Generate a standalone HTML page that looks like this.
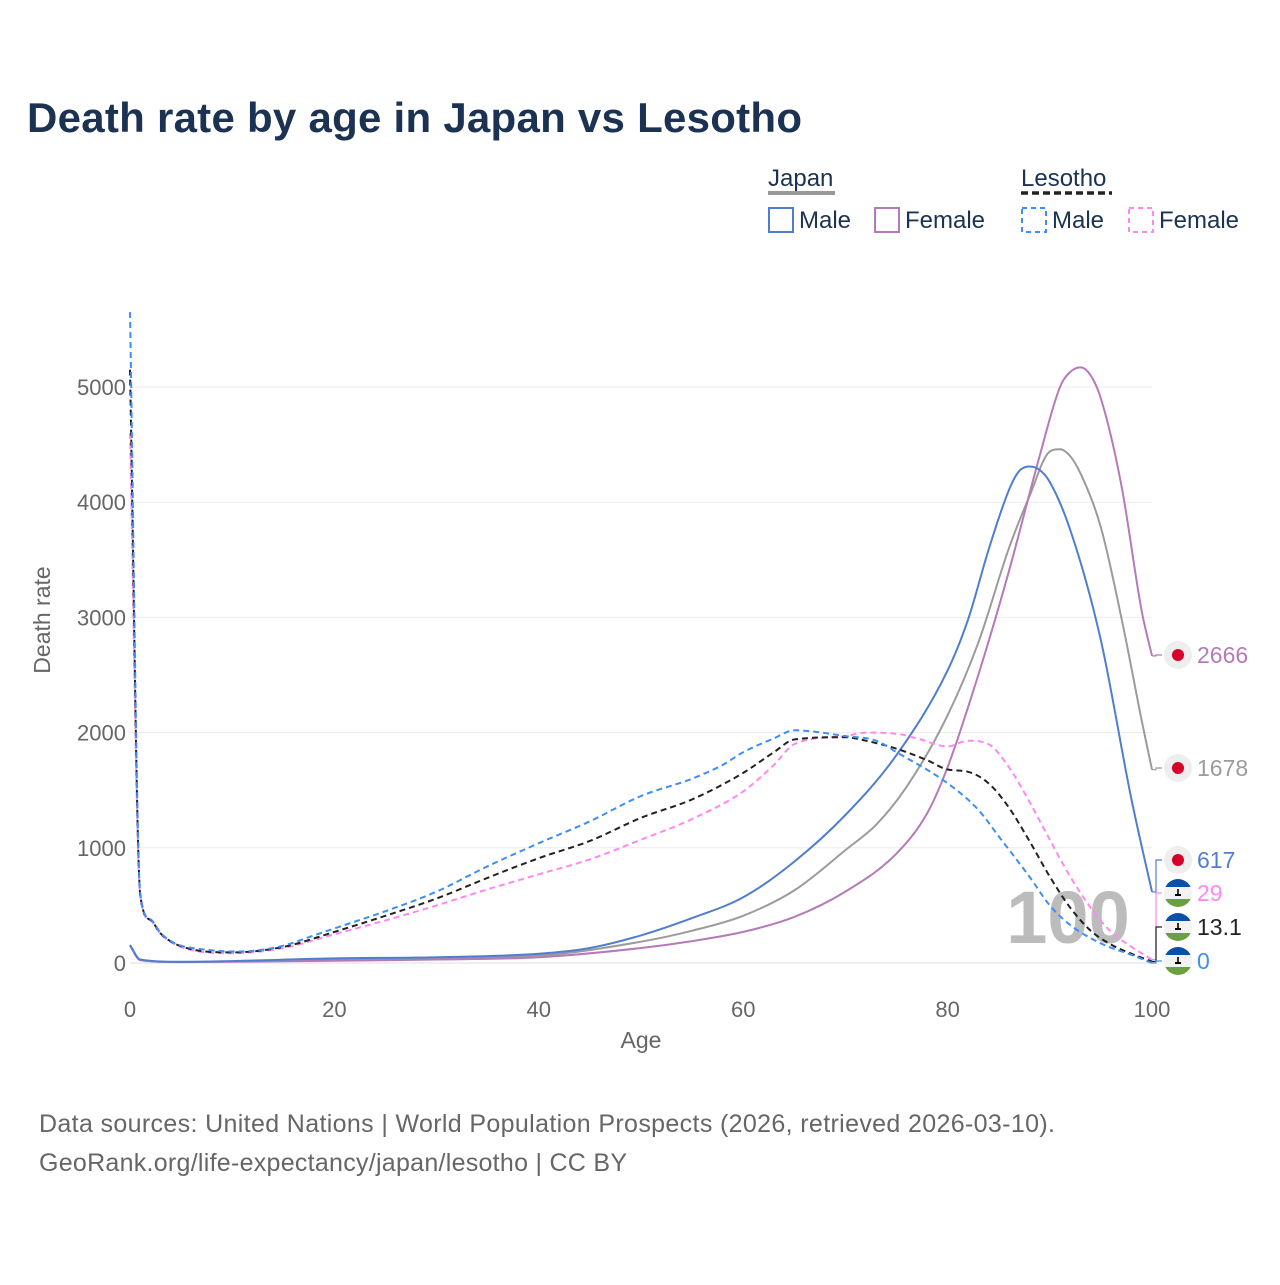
<!DOCTYPE html>
<html><head><meta charset="utf-8">
<style>
body{margin:0;background:#fff;}
svg text{font-family:"Liberation Sans",sans-serif;}
</style></head>
<body>
<svg id="chart" width="1280" height="1280" viewBox="0 0 1280 1280" xmlns="http://www.w3.org/2000/svg">
<text x="27" y="132" font-size="42" font-weight="bold" fill="#1b3252" textLength="775">Death rate by age in Japan vs Lesotho</text>
<g font-size="24" fill="#1b3252">
 <text x="768" y="186">Japan</text>
 <line x1="768" y1="193" x2="835" y2="193" stroke="#999" stroke-width="4"/>
 <text x="1021" y="186">Lesotho</text>
 <line x1="1021" y1="193" x2="1112" y2="193" stroke="#222" stroke-width="3.5" stroke-dasharray="7,4"/>
 <g><rect x="769" y="208" width="24" height="24" fill="none" stroke="#4f7ed0" stroke-width="2"/><text x="799" y="228">Male</text></g>
 <g><rect x="875" y="208" width="24" height="24" fill="none" stroke="#b57ab8" stroke-width="2"/><text x="905" y="228">Female</text></g>
 <g><rect x="1022" y="208" width="24" height="24" fill="none" stroke="#3e8ef7" stroke-width="2" stroke-dasharray="5,4"/><text x="1052" y="228">Male</text></g>
 <g><rect x="1129" y="208" width="24" height="24" fill="none" stroke="#ff88f0" stroke-width="2" stroke-dasharray="5,4"/><text x="1159" y="228">Female</text></g>
</g>
<g id="grid"></g>
<text x="1068" y="943" font-size="74" font-weight="bold" fill="#bcbcbc" text-anchor="middle">100</text>
<g id="series"></g>
<g id="labels"></g>
<text transform="translate(50,620) rotate(-90)" font-size="23" fill="#666" text-anchor="middle">Death rate</text>
<text x="641" y="1048" font-size="23" fill="#666" text-anchor="middle">Age</text>
<text x="39" y="1132" font-size="25" fill="#666" textLength="1016">Data sources: United Nations | World Population Prospects (2026, retrieved 2026-03-10).</text>
<text x="39" y="1171" font-size="25" fill="#666" textLength="588">GeoRank.org/life-expectancy/japan/lesotho | CC BY</text>
</svg>
<script>
const yTicks=[0,1000,2000,3000,4000,5000];
const xTicks=[0,20,40,60,80,100];
const jpMaleAges=[0,1,5,20,30,40,45,50,55,60,65,70,75,80,82,84,86,87,88,89,90,92,95,98,100];
const jpMaleVals=[156,30,10,40,50,80,130,240,390,570,880,1285,1805,2540,2980,3585,4105,4270,4310,4280,4175,3760,2800,1415,617];
const jpFemaleAges=[0,1,5,20,30,40,50,55,60,65,70,75,78,80,83,86,89,91,92,93,94,95,97,99,100];
const jpFemaleVals=[150,25,8,20,30,50,130,190,270,400,620,950,1300,1700,2500,3400,4400,5000,5130,5170,5100,4900,4150,3050,2666];
const jpTotalAges=[0,1,5,20,40,50,55,60,65,70,73,76,80,83,86,88,90,91,92,93,95,97,99,100];
const jpTotalVals=[153,28,9,30,65,185,280,410,630,980,1200,1530,2150,2780,3600,4050,4440,4460,4400,4250,3780,3000,2100,1678];
const lsMaleAges=[0,1,2,3,4,5,7,10,12,15,18,20,25,30,35,40,45,50,55,58,60,63,65,70,73,75,80,83,85,88,90,92,95,98,100];
const lsMaleVals=[5650,610,380,260,190,150,120,100,105,150,240,300,450,620,840,1040,1230,1450,1600,1720,1830,1950,2020,1970,1930,1830,1560,1330,1100,750,500,330,170,70,0];
const lsFemaleAges=[0,1,2,3,5,10,15,20,25,30,35,40,45,50,55,60,63,65,70,72,75,77,80,82,84,86,88,90,92,94,96,98,100];
const lsFemaleVals=[4600,580,370,250,140,85,130,250,370,500,640,770,900,1070,1250,1490,1720,1900,1970,2000,1990,1950,1880,1930,1900,1700,1400,1070,750,480,270,140,29];
const lsTotalAges=[0,1,2,3,5,10,15,20,25,30,35,40,45,50,55,60,63,65,70,72,75,78,80,82,84,86,88,90,92,94,96,98,100];
const lsTotalVals=[5150,595,375,255,145,92,140,270,410,560,740,910,1060,1260,1420,1650,1830,1940,1960,1930,1860,1760,1680,1660,1560,1350,1060,750,480,280,160,80,13.1];
const endLabels=["2666","1678","617","29","13.1","0"];

const NS="http://www.w3.org/2000/svg";
const X0=130,X1=1152,Y0=963,Y1=387;
function xs(a){return X0+(X1-X0)*a/100;}
function ys(v){return Y0-(Y0-Y1)*v/5000;}
function mk(tag,attrs,parent){const e=document.createElementNS(NS,tag);for(const k in attrs)e.setAttribute(k,attrs[k]);parent.appendChild(e);return e;}
function monoPath(px,py){
 const n=px.length,d=[],m=[];
 for(let i=0;i<n-1;i++)d.push((py[i+1]-py[i])/(px[i+1]-px[i]));
 m[0]=d[0];m[n-1]=d[n-2];
 for(let i=1;i<n-1;i++){m[i]=(d[i-1]*d[i]<=0)?0:(d[i-1]+d[i])/2;}
 for(let i=0;i<n-1;i++){if(d[i]===0){m[i]=0;m[i+1]=0;continue;}const a=m[i]/d[i],b=m[i+1]/d[i],s=a*a+b*b;if(s>9){const t=3/Math.sqrt(s);m[i]=t*a*d[i];m[i+1]=t*b*d[i];}}
 let p='M'+px[0].toFixed(1)+','+py[0].toFixed(1);
 for(let i=0;i<n-1;i++){const h=(px[i+1]-px[i])/3;
  p+=' C'+(px[i]+h).toFixed(1)+','+(py[i]+m[i]*h).toFixed(1)+' '+(px[i+1]-h).toFixed(1)+','+(py[i+1]-m[i+1]*h).toFixed(1)+' '+px[i+1].toFixed(1)+','+py[i+1].toFixed(1);}
 return p;
}
const grid=document.getElementById('grid');
yTicks.forEach(t=>{
 const l=mk('line',{x1:X0,x2:X1,y1:ys(t),y2:ys(t),stroke:t===0?'#ddd':'#ebebeb','stroke-width':1},grid);
 
 
 const tx=mk('text',{x:X0-4,y:ys(t)+8,'font-size':22,fill:'#666','text-anchor':'end'},grid);
 tx.textContent=t;
 
 
});
xTicks.forEach(t=>{
 const tx=mk('text',{x:xs(t),y:1017,'font-size':22,fill:'#666','text-anchor':'middle'},grid);
 tx.textContent=t;
 
 
});
const sg=document.getElementById('series');
function line(ages,vals,color,dash,name){
 const p=mk('path',{d:monoPath(ages.map(xs),vals.map(ys)),fill:'none',stroke:color,'stroke-width':2,'stroke-dasharray':dash,'stroke-linejoin':'round'},sg);
 
 
}
line(jpTotalAges,jpTotalVals,'#9b9b9b','none','japan-total-line');
line(jpFemaleAges,jpFemaleVals,'#b57ab8','none','japan-female-line');
line(jpMaleAges,jpMaleVals,'#4f7ed0','none','japan-male-line');
line(lsFemaleAges,lsFemaleVals,'#ff88f0','6,4','lesotho-female-line');
line(lsTotalAges,lsTotalVals,'#222','6,4','lesotho-total-line');
line(lsMaleAges,lsMaleVals,'#3e8ef7','6,4','lesotho-male-line');

const lg=document.getElementById('labels');
const ends=[
 {v:jpFemaleVals[jpFemaleVals.length-1],ly:655,c:'#b57ab8',jp:true,n:'japan-female'},
 {v:jpTotalVals[jpTotalVals.length-1],ly:768,c:'#9b9b9b',jp:true,n:'japan-total'},
 {v:jpMaleVals[jpMaleVals.length-1],ly:860,c:'#4f7ed0',jp:true,n:'japan-male'},
 {v:lsFemaleVals[lsFemaleVals.length-1],ly:893,c:'#ff88f0',jp:false,n:'lesotho-female'},
 {v:lsTotalVals[lsTotalVals.length-1],ly:927,c:'#222',jp:false,n:'lesotho-total'},
 {v:lsMaleVals[lsMaleVals.length-1],ly:961,c:'#3e8ef7',jp:false,n:'lesotho-male'}
];
ends.forEach((e,i)=>{
 const y=ys(e.v);
 const c=mk('polyline',{points:`${X1},${y} ${X1+4},${y} ${X1+4},${e.ly} ${X1+10},${e.ly}`,fill:'none',stroke:e.c,'stroke-width':1.2},lg);
 
 
 const cx=1178;
 const g=mk('g',{},lg);
 
 
 if(e.jp){
  mk('circle',{cx:cx,cy:e.ly,r:14,fill:'#eeeeee'},g);
  mk('circle',{cx:cx,cy:e.ly,r:6,fill:'#d7002a'},g);
 }else{
  const id='clip'+i;
  const cp=mk('clipPath',{id:id},g);mk('circle',{cx:cx,cy:e.ly,r:14},cp);
  const gg=mk('g',{'clip-path':`url(#${id})`},g);
  mk('rect',{x:cx-14,y:e.ly-14,width:28,height:28,fill:'#f2f2f2'},gg);
  mk('rect',{x:cx-14,y:e.ly-14,width:28,height:8,fill:'#0a4fa8'},gg);
  mk('rect',{x:cx-14,y:e.ly+6,width:28,height:8,fill:'#6aa040'},gg);
  mk('rect',{x:cx-0.8,y:e.ly-4,width:1.6,height:6,fill:'#000'},gg);
  mk('rect',{x:cx-3,y:e.ly+1,width:6,height:2,fill:'#000'},gg);
 }
 const t=mk('text',{x:1197,y:e.ly+8,'font-size':23,fill:e.c},lg);
 t.textContent=endLabels[i];
 
 
});
</script>
</body></html>
